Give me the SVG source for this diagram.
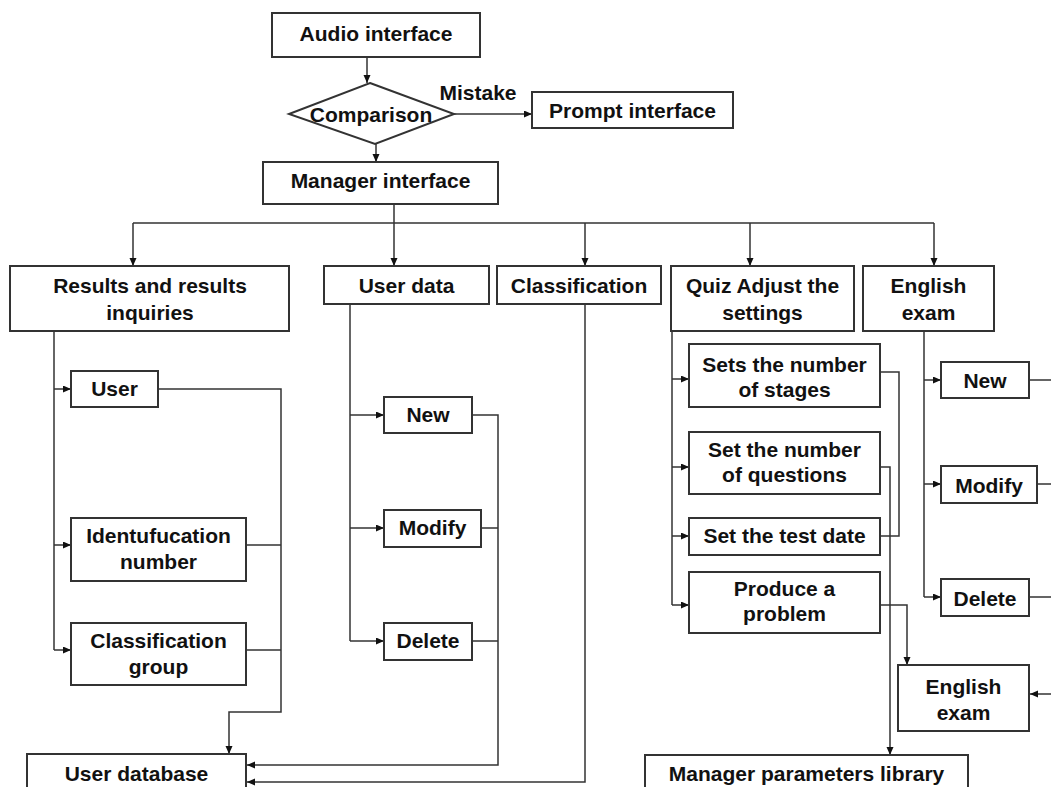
<svg xmlns="http://www.w3.org/2000/svg" width="1051" height="787" viewBox="0 0 1051 787">
<defs>
<marker id="ar" markerUnits="userSpaceOnUse" markerWidth="9" markerHeight="8" refX="8" refY="3.5" orient="auto"><path d="M0,0 L8,3.5 L0,7 z" fill="#111"/></marker>
<style>
.b{fill:#fff;stroke:#333;stroke-width:2}
.t{font-family:"Liberation Sans",Arial,sans-serif;font-weight:bold;font-size:21px;fill:#111;text-anchor:middle}
.c{fill:none;stroke:#333;stroke-width:1.5}
.a{marker-end:url(#ar)}
</style>
</defs>
<rect width="1051" height="787" fill="#fff"/>
<g id="connectors">
<path class="c a" d="M367,57 V83"/>
<path class="c a" d="M454,114 H532"/>
<path class="c a" d="M376,144 V162"/>
<path class="c" d="M394,204 V223 M133,223 H934"/>
<path class="c a" d="M133,223 V266"/>
<path class="c a" d="M394,223 V266"/>
<path class="c a" d="M585,223 V266"/>
<path class="c a" d="M750,223 V266"/>
<path class="c a" d="M934,223 V266"/>
<path class="c" d="M54,331 V650"/>
<path class="c a" d="M54,389 H71"/>
<path class="c a" d="M54,545 H71"/>
<path class="c a" d="M54,650 H71"/>
<path class="c a" d="M158,389 H281 V712 H229 V754"/>
<path class="c" d="M246,545 H281 M246,650 H281"/>
<path class="c" d="M350,304 V641"/>
<path class="c a" d="M350,415 H384"/>
<path class="c a" d="M350,528 H384"/>
<path class="c a" d="M350,641 H384"/>
<path class="c a" d="M472,415 H498 V765 H247"/>
<path class="c" d="M481,528 H498 M472,641 H498"/>
<path class="c a" d="M585,304 V782 H247"/>
<path class="c" d="M672,331 V605"/>
<path class="c a" d="M672,379 H689"/>
<path class="c a" d="M672,467 H689"/>
<path class="c a" d="M672,536 H689"/>
<path class="c a" d="M672,605 H689"/>
<path class="c" d="M880,372 H899 V536 H880"/>
<path class="c a" d="M880,467 H890 V755"/>
<path class="c a" d="M880,605 H907 V665"/>
<path class="c" d="M924,331 V597"/>
<path class="c a" d="M924,380 H941"/>
<path class="c a" d="M924,484 H941"/>
<path class="c a" d="M924,597 H941"/>
<path class="c" d="M1029,380 H1051 M1037,484 H1051 M1029,597 H1051"/>
<path class="c a" d="M1051,694 H1030"/>
</g>
<g id="audio"><rect class="b" x="272" y="13" width="208" height="44"/><text class="t" x="376" y="41">Audio interface</text></g>
<g id="comparison"><polygon class="b" points="370,83 454,114 375,144 289,114"/><text class="t" x="371" y="122">Comparison</text></g>
<g id="mistake"><text class="t" x="478" y="100">Mistake</text></g>
<g id="prompt"><rect class="b" x="532" y="92" width="201" height="36"/><text class="t" x="632.5" y="118">Prompt interface</text></g>
<g id="manager"><rect class="b" x="263" y="162" width="235" height="42"/><text class="t" x="380.5" y="188">Manager interface</text></g>
<g id="results"><rect class="b" x="10" y="266" width="279" height="65"/><text class="t" x="150" y="293">Results and results</text><text class="t" x="150" y="320">inquiries</text></g>
<g id="userdata"><rect class="b" x="324" y="266" width="165" height="38"/><text class="t" x="406.5" y="293">User data</text></g>
<g id="classification"><rect class="b" x="497" y="266" width="164" height="38"/><text class="t" x="579" y="293">Classification</text></g>
<g id="quiz"><rect class="b" x="671" y="266" width="183" height="65"/><text class="t" x="762.5" y="293">Quiz Adjust the</text><text class="t" x="762.5" y="320">settings</text></g>
<g id="english"><rect class="b" x="863" y="266" width="131" height="65"/><text class="t" x="928.5" y="293">English</text><text class="t" x="928.5" y="320">exam</text></g>
<g id="user"><rect class="b" x="71" y="371" width="87" height="36"/><text class="t" x="114.5" y="396">User</text></g>
<g id="idnum"><rect class="b" x="71" y="518" width="175" height="63"/><text class="t" x="158.5" y="543">Identufucation</text><text class="t" x="158.5" y="569">number</text></g>
<g id="classgroup"><rect class="b" x="71" y="623" width="175" height="62"/><text class="t" x="158.5" y="648">Classification</text><text class="t" x="158.5" y="674">group</text></g>
<g id="ud-new"><rect class="b" x="384" y="397" width="88" height="36"/><text class="t" x="428" y="422">New</text></g>
<g id="ud-modify"><rect class="b" x="384" y="510" width="97" height="37"/><text class="t" x="432.5" y="535">Modify</text></g>
<g id="ud-delete"><rect class="b" x="384" y="623" width="88" height="37"/><text class="t" x="428" y="648">Delete</text></g>
<g id="stages"><rect class="b" x="689" y="344" width="191" height="63"/><text class="t" x="784.5" y="372">Sets the number</text><text class="t" x="784.5" y="397">of stages</text></g>
<g id="questions"><rect class="b" x="689" y="432" width="191" height="62"/><text class="t" x="784.5" y="457">Set the number</text><text class="t" x="784.5" y="482">of questions</text></g>
<g id="testdate"><rect class="b" x="689" y="518" width="191" height="37"/><text class="t" x="784.5" y="543">Set the test date</text></g>
<g id="produce"><rect class="b" x="689" y="572" width="191" height="61"/><text class="t" x="784.5" y="596">Produce a</text><text class="t" x="784.5" y="621">problem</text></g>
<g id="en-new"><rect class="b" x="941" y="362" width="88" height="36"/><text class="t" x="985" y="388">New</text></g>
<g id="en-modify"><rect class="b" x="941" y="466" width="96" height="37"/><text class="t" x="989" y="493">Modify</text></g>
<g id="en-delete"><rect class="b" x="941" y="579" width="88" height="37"/><text class="t" x="985" y="606">Delete</text></g>
<g id="english-exam2"><rect class="b" x="898" y="665" width="131" height="66"/><text class="t" x="963.5" y="694">English</text><text class="t" x="963.5" y="720">exam</text></g>
<g id="userdb"><rect class="b" x="27" y="754" width="219" height="50"/><text class="t" x="136.5" y="781">User database</text></g>
<g id="mplib"><rect class="b" x="645" y="755" width="323" height="50"/><text class="t" x="806.5" y="781">Manager parameters library</text></g>
</svg>
